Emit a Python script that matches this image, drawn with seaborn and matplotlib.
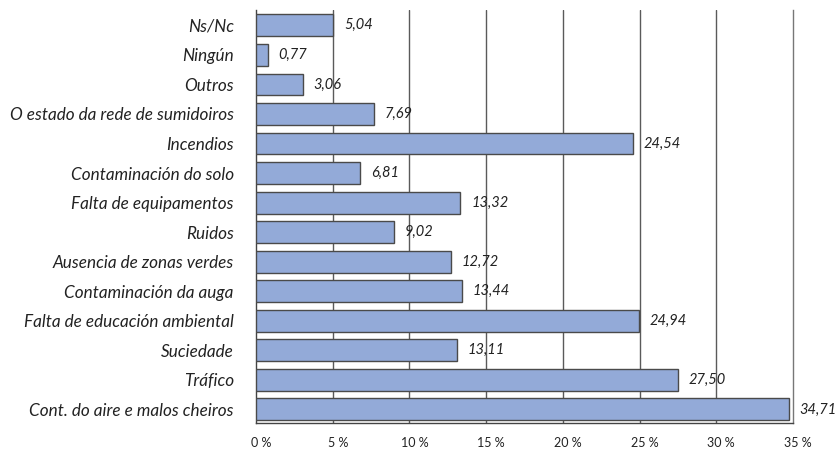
import matplotlib
matplotlib.use("Agg")
import matplotlib.pyplot as plt
import matplotlib.transforms as mtransforms
import seaborn as sns
import pandas as pd

categories = ["Ns/Nc", "Ningún", "Outros", "O estado da rede de sumidoiros", "Incendios",
              "Contaminación do solo", "Falta de equipamentos", "Ruidos",
              "Ausencia de zonas verdes", "Contaminación da auga",
              "Falta de educación ambiental", "Suciedade", "Tráfico",
              "Cont. do aire e malos cheiros"]
values = [5.04, 0.77, 3.06, 7.69, 24.54, 6.81, 13.32, 9.02, 12.72, 13.44, 24.94, 13.11, 27.50, 34.71]
tick_values = [0, 5, 10, 15, 20, 25, 30, 35]
tick_labels = ["0 %", "5 %", "10 %", "15 %", "20 %", "25 %", "30 %", "35 %"]

df = pd.DataFrame({"cat": categories, "val": values})

sns.set_style("white")
plt.rcParams["font.family"] = ["Lato", "DejaVu Sans"]

fig = plt.figure(figsize=(8.38, 4.51), dpi=100)
ax = fig.add_axes([256 / 838, 1 - 423 / 451, (793 - 256) / 838, (423 - 10) / 451])

sns.barplot(data=df, x="val", y="cat", orient="h", color="#93aad8", saturation=1,
            edgecolor="#4a4a4a", linewidth=1, width=0.74, ax=ax, zorder=3)

ax.set_xlim(0, 35)
ax.set_ylim(len(categories) - 0.54, -0.52)
ax.set_xticks(tick_values)
ax.set_xticklabels(tick_labels, fontsize=9, color="#222222")
ax.tick_params(axis="x", length=0, pad=10)
ax.tick_params(axis="y", length=0, pad=16)
shift = mtransforms.ScaledTranslation(5 / 100, 0, fig.dpi_scale_trans)
for lbl in ax.get_xticklabels():
    lbl.set_transform(lbl.get_transform() + shift)
for lbl in ax.get_yticklabels():
    lbl.set_fontstyle("italic")
    lbl.set_fontsize(12.3)
    lbl.set_color("#222222")
ax.set_xlabel("")
ax.set_ylabel("")

for x in tick_values[1:-1]:
    ax.axvline(x, color="#5a5a5a", linewidth=1, zorder=1)

for s in ["left", "bottom", "right"]:
    ax.spines[s].set_visible(True)
    ax.spines[s].set_color("#444444")
    ax.spines[s].set_linewidth(1)
ax.spines["top"].set_visible(False)
ax.spines["right"].set_color("#777777")

for i, v in enumerate(values):
    ax.text(v + 0.7, i, f"{v:.2f}".replace(".", ","), va="center", ha="left",
            fontsize=10.5, fontstyle="italic", color="#222222", zorder=4)

fig.savefig("out.png", dpi=100, facecolor="white")
